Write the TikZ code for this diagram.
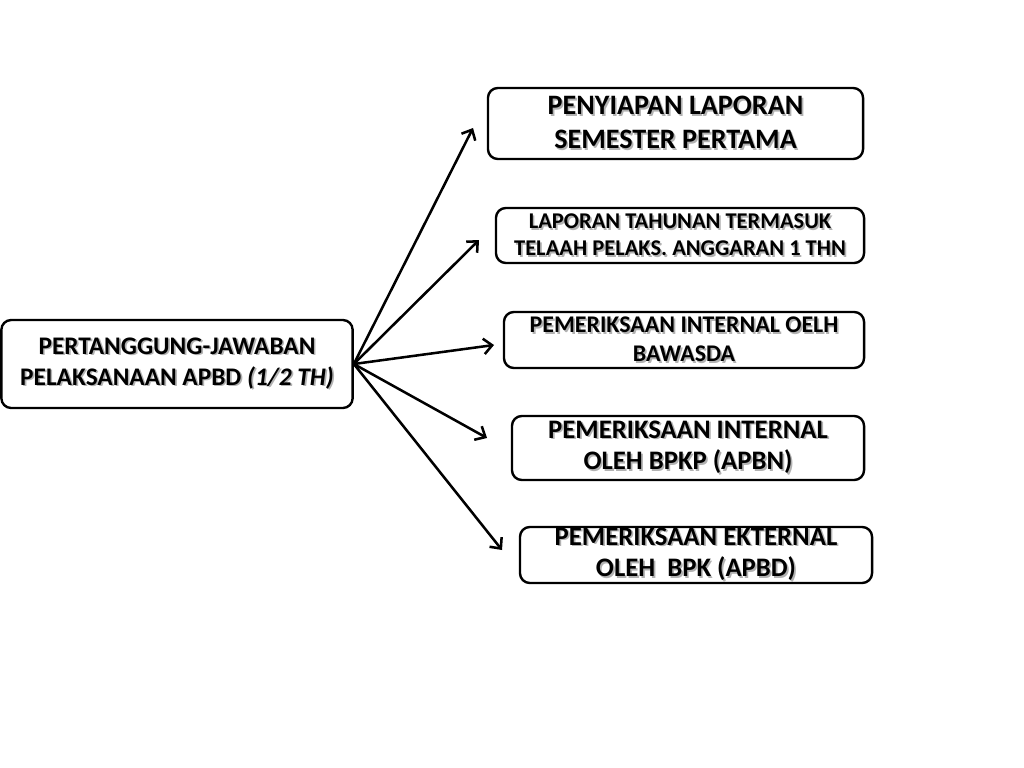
\documentclass[tikz,border=0pt]{standalone}
\usepackage{fontspec}
\setmainfont{Carlito}
\usetikzlibrary{arrows.meta}
\newcommand{\shd}[1]{\rlap{\kern1.2pt\raisebox{-1.2pt}{\textcolor{black!30}{#1}}}#1}

\begin{document}
\begin{tikzpicture}[x=0.025cm, y=-0.025cm,
     box/.style={draw, line width=1.7pt, rounded corners=7pt, align=center, inner sep=0pt, font=\bfseries},
     arr/.style={-{Straight Barb[length=6pt, width=11pt]}, line width=1.8pt}]

   \useasboundingbox (0,0) rectangle (1024,768);

   % source
   \node[box, minimum width=8.78cm, minimum height=2.2cm, font=\bfseries\fontsize{18}{22}\selectfont] (src) at (177,364)
     {\shd{PERTANGGUNG-JAWABAN}\\ \shd{PELAKSANAAN APBD \textit{(1/2 TH)}}};

   % targets
   \node[box, minimum width=9.375cm, minimum height=1.775cm, font=\bfseries\fontsize{20}{24}\selectfont] (semester) at (675.5,123.5)
     {\shd{PENYIAPAN LAPORAN}\\ \shd{SEMESTER PERTAMA}};
   \node[box, minimum width=9.2cm, minimum height=1.375cm, font=\bfseries\fontsize{16}{19}\selectfont] (tahunan) at (680,235.5)
     {\shd{LAPORAN TAHUNAN TERMASUK}\\ \shd{TELAAH PELAKS. ANGGARAN 1 THN}};
   \node[box, minimum width=9cm, minimum height=1.4cm, font=\bfseries\fontsize{17}{20.5}\selectfont] (bawasda) at (684,340)
     {\shd{PEMERIKSAAN INTERNAL OELH}\\ \shd{BAWASDA}};
   \node[box, minimum width=8.8cm, minimum height=1.6cm, font=\bfseries\fontsize{19}{22.5}\selectfont] (bpkp) at (688,448)
     {\shd{PEMERIKSAAN INTERNAL}\\ \shd{OLEH BPKP (APBN)}};
   \node[box, minimum width=8.8cm, minimum height=1.4cm, font=\bfseries\fontsize{19}{22.5}\selectfont] (bpk) at (696,555)
     {\shd{PEMERIKSAAN EKTERNAL}\\ \shd{OLEH\ \ BPK (APBD)}};

   % arrow tips
   \coordinate (t1) at (473,128);
   \coordinate (t2) at (479,240);
   \coordinate (t3) at (494,345);
   \coordinate (t4) at (487,438);
   \coordinate (t5) at (502,550);

   \foreach \t in {t1,t2,t3,t4,t5}
     \draw[arr] (src.east) -- (\t);
\end{tikzpicture}
\end{document}
